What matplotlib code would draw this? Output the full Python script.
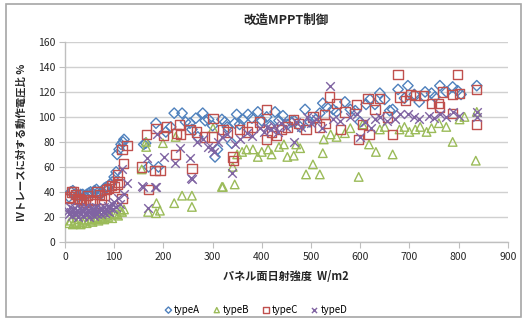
import matplotlib
matplotlib.use("Agg")
import matplotlib.pyplot as plt
from matplotlib.patches import Rectangle

plt.rcParams['font.family'] = ['Noto Sans CJK JP', 'DejaVu Sans']

# Irradiance (W/m2) and operating-voltage ratio (%) for each control type
typeA_x = [8, 12, 16, 20, 25, 28, 32, 36, 40, 44, 48, 52, 56, 60, 64, 68, 72, 76, 80, 84,
           88, 92, 96, 100, 104, 106, 110, 114, 118, 120,
           160, 164, 170, 185, 190, 205, 215, 222, 238, 245, 254, 258, 266, 270, 280, 285,
           292, 300, 305, 310, 319, 325, 330, 339, 345, 349, 355, 362, 372, 380, 392, 400,
           410, 418, 427, 435, 443, 452, 460,
           466, 478, 488, 498, 510, 518, 524, 532, 545, 552, 569, 580, 590, 600, 612, 620,
           630, 640, 650, 660, 666, 677, 690, 697, 710, 720, 732, 745, 752, 762, 775, 788,
           798, 805, 837]
typeA_y = [36, 40, 41, 38, 37, 36, 38, 38, 37, 38, 39, 40, 39, 41, 42, 40, 38, 40, 43, 44,
           42, 46, 48, 52, 56, 70, 74, 78, 80, 82,
           78, 79, 60, 95, 60, 88, 92, 103, 103, 96, 95, 90, 99, 84, 103, 97,
           98, 93, 68, 74, 98, 96, 92, 79, 95, 102, 94, 98, 102, 99, 104, 97,
           100, 93, 104, 97, 101, 94, 96,
           97, 92, 106, 96, 98, 103, 111, 108, 106, 104, 112, 106, 105, 96, 110, 114,
           110, 119, 114, 105, 106, 122, 115, 125, 118, 112, 120, 119, 116, 125, 120, 124,
           121, 118, 125]

typeB_x = [8, 12, 16, 20, 24, 28, 32, 36, 40, 44, 48, 52, 56, 60, 64, 68, 72, 76, 80, 84,
           88, 92, 96, 100, 104, 108, 112, 116, 120,
           156, 165, 165, 169, 185, 186, 193, 199, 222, 225, 238, 258, 258, 301, 319, 321,
           341, 345, 350, 360, 369, 382, 392, 400, 413, 420, 435, 445, 452,
           465, 470, 478, 490, 504, 518, 524, 526, 540, 552, 569, 580, 597, 605, 618, 632,
           640, 650, 666, 680, 690, 700, 712, 722, 735, 745, 760, 775, 788, 802, 812, 835, 837]
typeB_y = [15, 17, 14, 16, 15, 18, 14, 16, 17, 15, 18, 17, 16, 19, 18, 17, 20, 19, 18, 21,
           20, 22, 19, 23, 22, 21, 25, 24, 26,
           58, 76, 80, 24, 23, 31, 25, 79, 31, 84, 37, 37, 28, 91, 44, 44,
           60, 46, 70, 72, 74, 74, 68, 72, 74, 70, 76, 78, 68,
           69, 78, 75, 54, 62, 54, 71, 82, 86, 84, 87, 91, 52, 94, 78, 72,
           90, 92, 70, 90, 92, 88, 90, 92, 88, 91, 95, 92, 80, 98, 100, 65, 104]

typeC_x = [8, 10, 14, 18, 22, 26, 30, 34, 38, 41, 46, 51, 56, 60, 65, 70, 75, 80, 85, 89,
           94, 100, 106, 106, 110, 116, 116, 119, 126,
           156, 166, 169, 183, 185, 193, 201, 207, 224, 226, 232, 235, 254, 258, 268, 283,
           299, 301, 321, 331, 341, 343, 355, 370, 380, 396, 410, 410, 420, 430, 440, 452,
           465, 474, 490, 504, 518, 528, 530, 538, 552, 560, 569, 593, 597, 605, 616, 618,
           630, 640, 655, 666, 677, 681, 692, 702, 712, 728, 745, 760, 762, 768, 788, 788,
           798, 802, 837, 837]
typeC_y = [35, 36, 40, 40, 38, 34, 35, 33, 32, 32, 37, 34, 33, 31, 40, 38, 34, 37, 42, 43,
           45, 44, 46, 54, 48, 35, 74, 63, 77,
           60, 86, 42, 57, 91, 57, 85, 92, 70, 87, 94, 86, 90, 59, 88, 84,
           84, 99, 90, 88, 68, 65, 90, 88, 92, 96, 106, 82, 88, 85, 90, 92,
           98, 95, 90, 100, 92, 102, 95, 116, 111, 90, 104, 110, 82, 94, 115, 86,
           106, 115, 100, 86, 134, 116, 113, 118, 117, 117, 111, 111, 108, 120, 118, 103,
           134, 119, 122, 94]

typeD_x = [6, 8, 10, 12, 14, 16, 18, 20, 22, 24, 26, 28, 30, 32, 34, 36, 38, 40, 42, 44,
           46, 48, 50, 52, 54, 56, 58, 60, 62, 64, 66, 68, 70, 72, 74, 76, 78, 80, 82, 84,
           86, 88, 90, 92, 95, 98, 100, 104, 108, 112, 116, 120, 126,
           156, 159, 166, 169, 183, 186, 187, 201, 224, 234, 254, 256, 258, 268, 280, 290,
           298, 303, 311, 320, 330, 339, 345, 355, 369, 380, 396, 405, 410, 418, 425, 432,
           440, 450,
           465, 470, 480, 491, 500, 510, 522, 538, 545, 560, 580, 593, 599, 610, 623, 630,
           640, 655, 670, 680, 697, 710, 720, 740, 750, 762, 775, 788, 800, 837, 837]
typeD_y = [25, 22, 28, 24, 21, 26, 23, 27, 22, 25, 20, 24, 27, 22, 25, 21, 26, 23, 28, 22,
           25, 20, 24, 27, 22, 25, 21, 26, 23, 28, 22, 25, 24, 27, 22, 26, 24, 28, 23, 26,
           25, 29, 24, 27, 30, 26, 32, 28, 35, 30, 58, 38, 47,
           45, 44, 67, 27, 44, 44, 86, 68, 63, 75, 67, 51, 50, 80, 82, 76,
           75, 72, 80, 84, 86, 55, 78, 82, 87, 85, 91, 88, 92, 90, 93, 88,
           95, 92,
           80, 96, 92, 100, 95, 98, 91, 125, 98, 97, 100, 102, 84, 96, 91, 98,
           100, 97, 98, 102, 102, 100, 98, 101, 99, 102, 100, 104, 101, 104, 100]

series = [
    ("typeA", typeA_x, typeA_y, "D", "#4F81BD", 28),
    ("typeB", typeB_x, typeB_y, "^", "#9BBB59", 38),
    ("typeC", typeC_x, typeC_y, "s", "#C0504D", 44),
    ("typeD", typeD_x, typeD_y, "x", "#8064A2", 38),
]

x_ticks = [0, 100, 200, 300, 400, 500, 600, 700, 800, 900]
y_ticks = [0, 20, 40, 60, 80, 100, 120, 140, 160]

fig = plt.figure(figsize=(5.24, 3.20), dpi=100)
fig.patch.set_facecolor("white")
fig.add_artist(Rectangle((0.011, 0.008), 0.983, 0.978, transform=fig.transFigure,
                         fill=False, edgecolor="#a6a6a6", linewidth=1.2))

ax = fig.add_axes([0.124, 0.244, 0.845, 0.625])
for name, xs, ys, mk, col, sz in series:
    if mk == "x":
        ax.scatter(xs, ys, marker=mk, s=sz, color=col, linewidths=1.0, label=name, zorder=3)
    else:
        ax.scatter(xs, ys, marker=mk, s=sz, facecolors="none", edgecolors=col,
                   linewidths=1.0, label=name, zorder=3)

ax.set_xlim(0, 900)
ax.set_ylim(0, 160)
ax.set_xticks(x_ticks)
ax.set_yticks(y_ticks)
ax.yaxis.grid(True, color="#d0d0d0", linewidth=1.0)
ax.set_axisbelow(True)
for s in ("top", "right"):
    ax.spines[s].set_visible(False)
for s in ("left", "bottom"):
    ax.spines[s].set_color("#bfbfbf")
    ax.spines[s].set_linewidth(1.0)
ax.tick_params(axis="both", direction="out", length=4, color="#bfbfbf",
               labelsize=7.5, labelcolor="#262626", pad=3)

ax.set_title("改造MPPT制御", fontsize=9, fontweight="bold", color="#262626", pad=13)
ax.set_xlabel("パネル面日射強度  W/m2", fontsize=8, fontweight="bold", color="#262626", labelpad=6)
ax.set_ylabel("IVトレースに対する動作電圧比 %", fontsize=7.5, fontweight="bold",
              color="#262626", labelpad=8)

leg = ax.legend(loc="upper center", bbox_to_anchor=(0.43, -0.27), ncol=4, frameon=False,
                fontsize=7, handletextpad=0.1, columnspacing=1.2, markerscale=0.6,
                handlelength=1.0)

fig.savefig("out.png", dpi=100, facecolor="white")
